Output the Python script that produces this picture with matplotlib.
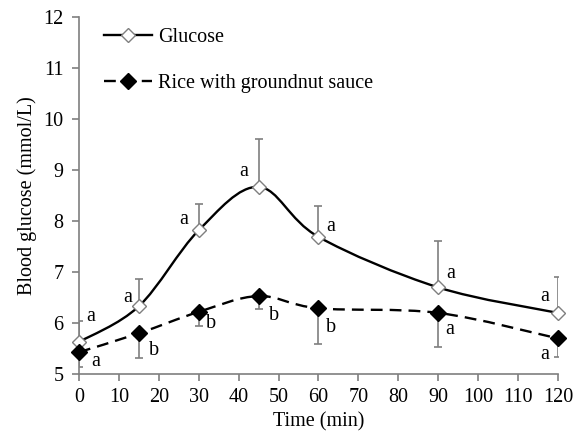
import matplotlib
matplotlib.use("Agg")
import matplotlib.pyplot as plt
from matplotlib.path import Path
from matplotlib.patches import PathPatch
from matplotlib.lines import Line2D
import numpy as np

time_min = [0, 15, 30, 45, 60, 90, 120]
glucose = [5.63, 6.33, 7.82, 8.67, 7.69, 6.70, 6.20]
glucose_err = [0.42, 0.53, 0.51, 0.93, 0.60, 0.90, 0.70]
rice = [5.43, 5.80, 6.22, 6.53, 6.29, 6.20, 5.70]
rice_err = [0.30, 0.49, 0.28, 0.26, 0.69, 0.67, 0.37]
glucose_letters = ["a", "a", "a", "a", "a", "a", "a"]
rice_letters = ["a", "b", "b", "b", "b", "a", "a"]
x_ticks = list(range(0, 121, 10))
y_ticks = list(range(5, 13))

# letter offsets in pixels from each point
glucose_off = [(12, 25), (-11, 9), (-15, 11), (-15, 15), (12, 10), (12, 14), (-13, 16)]
rice_off = [(17, -9), (15, -17), (12, -12), (15, -19), (13, -19), (11, -17), (-13, -16)]

plt.rcParams["font.family"] = ["Liberation Serif", "DejaVu Serif"]
GREY = "#7f7f7f"
FS = 14.5


def smooth_path(x, y):
    # Catmull-Rom style bezier, like the spreadsheet "smoothed line"
    pts = np.column_stack([x, y]).astype(float)
    n = len(pts)
    verts = [pts[0]]
    codes = [Path.MOVETO]
    for i in range(n - 1):
        p0 = pts[max(i - 1, 0)]
        p1 = pts[i]
        p2 = pts[i + 1]
        p3 = pts[min(i + 2, n - 1)]
        c1 = p1 + (p2 - p0) / 6.0
        c2 = p2 - (p3 - p1) / 6.0
        verts += [c1, c2, p2]
        codes += [Path.CURVE4] * 3
    return Path(verts, codes)


fig = plt.figure(figsize=(5.74, 4.32), dpi=100)
ax = fig.add_axes([0.1376, 0.134, 0.8344, 0.8266])

ax.add_patch(PathPatch(smooth_path(time_min, glucose), fill=False,
                       edgecolor="black", lw=1.7, zorder=2))
ax.add_patch(PathPatch(smooth_path(time_min, rice), fill=False,
                       edgecolor="black", lw=1.7, linestyle=(0, (5, 3)),
                       zorder=2))

ax.errorbar(time_min, glucose, yerr=[np.zeros(len(glucose)), glucose_err],
            fmt="none", ecolor=GREY, elinewidth=1.2, capsize=3, capthick=1.2,
            zorder=1)
ax.errorbar(time_min, rice, yerr=[rice_err, np.zeros(len(rice))],
            fmt="none", ecolor=GREY, elinewidth=1.2, capsize=3, capthick=1.2,
            zorder=1)

ax.plot(time_min, glucose, ls="none", marker="D", ms=7.5, mfc="white",
        mec=GREY, mew=1.0, zorder=3, clip_on=False)
ax.plot(time_min, rice, ls="none", marker="D", ms=8, mfc="black",
        mec="black", zorder=3, clip_on=False)

for t, v, s, off in zip(time_min, glucose, glucose_letters, glucose_off):
    ax.annotate(s, (t, v), xytext=off, textcoords="offset pixels",
                ha="center", va="center", fontsize=FS)
for t, v, s, off in zip(time_min, rice, rice_letters, rice_off):
    ax.annotate(s, (t, v), xytext=off, textcoords="offset pixels",
                ha="center", va="center", fontsize=FS)

ax.set_xlim(0, 120)
ax.set_ylim(5, 12)
ax.set_xticks(x_ticks)
ax.set_yticks(y_ticks)
ax.tick_params(axis="both", labelsize=FS, color=GREY, width=1.2, length=5,
               direction="out")
ax.tick_params(axis="y", pad=6)
ax.tick_params(axis="x", pad=5)
for side in ["top", "right"]:
    ax.spines[side].set_visible(False)
for side in ["left", "bottom"]:
    ax.spines[side].set_color(GREY)
    ax.spines[side].set_linewidth(1.2)

ax.set_xlabel("Time (min)", fontsize=FS, labelpad=4)
ax.set_ylabel("Blood glucose (mmol/L)", fontsize=FS, labelpad=5)

handles = [
    Line2D([], [], color="black", lw=1.7, marker="D", ms=7.5, mfc="white",
           mec=GREY),
    Line2D([], [], color="black", lw=1.7, ls=(0, (5, 3)), marker="D", ms=8,
           mfc="black", mec="black"),
]
ax.legend(handles, ["Glucose", "Rice with groundnut sauce"], loc="upper left",
          bbox_to_anchor=(0.052, 0.97), borderaxespad=0, borderpad=0,
          frameon=False, fontsize=FS, labelspacing=1.35, handlelength=2.4,
          handletextpad=0.3)

fig.savefig("out.png", dpi=100)
